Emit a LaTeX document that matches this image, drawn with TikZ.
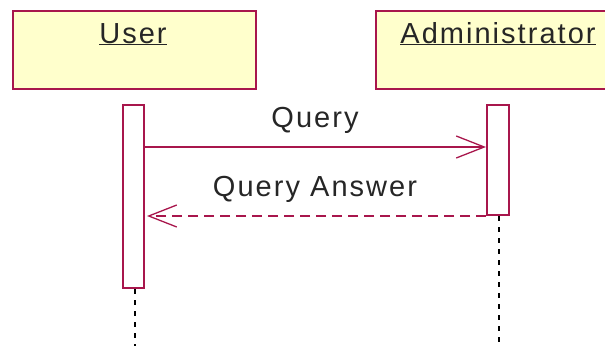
\documentclass[tikz,border=0pt]{standalone}
\usepackage{fontspec}
\setmainfont{Liberation Sans}
\usetikzlibrary{arrows.meta}
\definecolor{umlred}{HTML}{A8164C}
\definecolor{umlfill}{HTML}{FFFFCC}
\tikzset{
  x=1pt, y=-1pt,
  objbox/.style={draw=umlred, fill=umlfill, line width=2pt, anchor=north west, inner sep=0pt},
  actbox/.style={draw=umlred, fill=white, line width=2pt, anchor=north west, inner sep=0pt},
  lbl/.style={font=\fontsize{29}{30}\selectfont\addfontfeature{LetterSpace=7}, text=black!85, anchor=base, inner sep=0pt},
  msg/.style={draw=umlred, line width=1.5pt, -{Straight Barb[length=28pt, width=22pt, line width=1.3pt]}},
  reply/.style={msg, dash pattern=on 10pt off 6pt},
  lifeline/.style={draw=black, line width=2.8pt, dash pattern=on 5pt off 6pt}
}
\begin{document}
\begin{tikzpicture}
\useasboundingbox (0,0) rectangle (605,346);
% object heads
\node[objbox, minimum width=243pt, minimum height=78pt] (user) at (12,10) {};
\node[objbox, minimum width=232pt, minimum height=78pt] (admin) at (375,10) {};
\node[lbl] (userlbl) at (133,43) {\underline{User}};
\node[lbl] (adminlbl) at (498,43) {\underline{Administrator}};
% activation bars
\node[actbox, minimum width=21pt, minimum height=183pt] (uact) at (122,104) {};
\node[actbox, minimum width=22pt, minimum height=110pt] (aact) at (486,104) {};
% lifelines
\coordinate (bottom) at (0,346);
\draw[lifeline] ([xshift=1.5pt]uact.south) -- ([xshift=1.5pt]uact.south |- bottom);
\draw[lifeline] ([xshift=1pt]aact.south) -- ([xshift=1pt]aact.south |- bottom);
% messages
\coordinate (qy) at (0,147);
\coordinate (ry) at (0,216);
\draw[msg] (uact.east |- qy) -- (aact.west |- qy);
\draw[reply, shorten >=2pt] (aact.west |- ry) -- (uact.east |- ry);
\node[lbl] (qlbl) at (315,127) {Query};
\node[lbl] (rlbl) at (315,196) {Query Answer};
\end{tikzpicture}
\end{document}
